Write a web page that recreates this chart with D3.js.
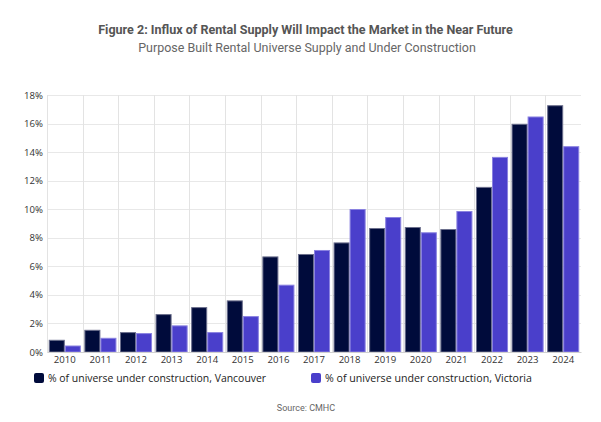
<!DOCTYPE html>
<html>
<head>
<meta charset="utf-8">
<script src="https://cdn.jsdelivr.net/npm/d3@7"></script>
<style>
  html, body { margin: 0; padding: 0; background: #fff; }
  svg { display: block; }
</style>
</head>
<body>
<svg id="chart" width="601" height="422"></svg>
<script>
const years = ["2010","2011","2012","2013","2014","2015","2016","2017","2018","2019","2020","2021","2022","2023","2024"];
const vancouver = [0.82,1.52,1.36,2.62,3.11,3.58,6.66,6.83,7.64,8.65,8.72,8.58,11.53,15.95,17.25];
const victoria  = [0.42,0.96,1.29,1.83,1.36,2.48,4.68,7.11,9.98,9.42,8.35,9.84,13.63,16.46,14.38];
const seriesNames = ["% of universe under construction, Vancouver", "% of universe under construction, Victoria"];
const yTicks = [0,2,4,6,8,10,12,14,16,18];
const titleText = "Figure 2: Influx of Rental Supply Will Impact the Market in the Near Future";
const subtitleText = "Purpose Built Rental Universe Supply and Under Construction";
const sourceText = "Source: CMHC";

const colors = ["#000b3b", "#4a3fcb"];
const svg = d3.select("#chart");

const x0 = 47, x1 = 581, yTop = 95, yBot = 352;

const x = d3.scaleBand().domain(years).range([x0, x1]).paddingInner(0).paddingOuter(0);
const xs = d3.scaleBand().domain([0,1]).range([0, x.bandwidth()]).paddingInner(0.0).paddingOuter(0.11);
const y = d3.scaleLinear().domain([0, 18]).range([yBot, yTop]);

function fitText(sel, target) {
  const w = sel.node().getComputedTextLength();
  const fs = parseFloat(sel.attr("font-size"));
  sel.attr("font-size", fs * target / w);
}

// gridlines
const g = svg.append("g");
g.selectAll("line.h").data(yTicks).join("line")
  .attr("x1", x0).attr("x2", x1)
  .attr("y1", d => Math.round(y(d)) + 0.5).attr("y2", d => Math.round(y(d)) + 0.5)
  .attr("stroke", "#e8e8e8").attr("stroke-width", 1);
g.selectAll("line.v").data(years).join("line")
  .attr("x1", d => Math.round(x(d)) + 0.5)
  .attr("x2", d => Math.round(x(d)) + 0.5)
  .attr("y1", yTop).attr("y2", yBot)
  .attr("stroke", "#e3e3e3").attr("stroke-width", 1);

// bars
const data = years.map((yr, i) => ({yr, vals: [vancouver[i], victoria[i]]}));
const bg = svg.append("g").selectAll("g").data(data).join("g")
  .attr("transform", d => `translate(${x(d.yr)},0)`);
bg.selectAll("rect").data(d => d.vals.map((v, k) => ({v, k}))).join("rect")
  .attr("x", d => xs(d.k) + 0.5)
  .attr("width", xs.bandwidth() - 1)
  .attr("y", d => y(d.v))
  .attr("height", d => yBot - y(d.v))
  .attr("fill", d => colors[d.k])
  .attr("stroke", d => d.k === 0 ? "#6b6f8c" : "#8a82e0")
  .attr("stroke-width", 1);

// y axis
const yAxis = d3.axisLeft(y).tickValues(yTicks).tickFormat(d => d + "%").tickSize(0).tickPadding(4);
const ya = svg.append("g").attr("transform", `translate(${x0},0)`).call(yAxis);
ya.select(".domain").remove();
ya.selectAll("text").attr("font-family", "'Open Sans', sans-serif").attr("font-size", 9.6).attr("fill", "#333");

// x axis
const xAxis = d3.axisBottom(x).tickSize(0).tickPadding(4);
const xa = svg.append("g").attr("transform", `translate(0,${yBot})`).call(xAxis);
xa.select(".domain").attr("stroke", "#d0d0d0");
xa.selectAll("text").attr("font-family", "'Open Sans', sans-serif").attr("font-size", 9.6).attr("fill", "#333");

// title & subtitle
const t = svg.append("text").text(titleText)
  .attr("x", 305.5).attr("y", 34).attr("text-anchor", "middle")
  .attr("font-family", "Roboto, sans-serif").attr("font-weight", "bold")
  .attr("font-size", 13).attr("fill", "#555");
fitText(t, 415);
const st = svg.append("text").text(subtitleText)
  .attr("x", 307).attr("y", 52).attr("text-anchor", "middle")
  .attr("font-family", "Roboto, sans-serif")
  .attr("font-size", 13).attr("fill", "#666");
fitText(st, 338);

// legend
const legX = [34, 311];
const legW = [218, 207];
const lg = svg.append("g").selectAll("g").data(seriesNames).join("g")
  .attr("transform", (d,i) => `translate(${legX[i]},373)`);
lg.append("rect").attr("width", 10).attr("height", 10).attr("rx", 2)
  .attr("fill", (d,i) => colors[i]);
lg.append("text").text(d => d).attr("x", 14).attr("y", 9)
  .attr("font-family", "'Open Sans', sans-serif").attr("font-size", 10.4).attr("fill", "#222")
  .each(function(d, i) { fitText(d3.select(this), legW[i]); });

// source
svg.append("text").text(sourceText)
  .attr("x", 306).attr("y", 411).attr("text-anchor", "middle")
  .attr("font-family", "Roboto, sans-serif").attr("font-size", 9).attr("fill", "#666");
</script>
</body>
</html>
